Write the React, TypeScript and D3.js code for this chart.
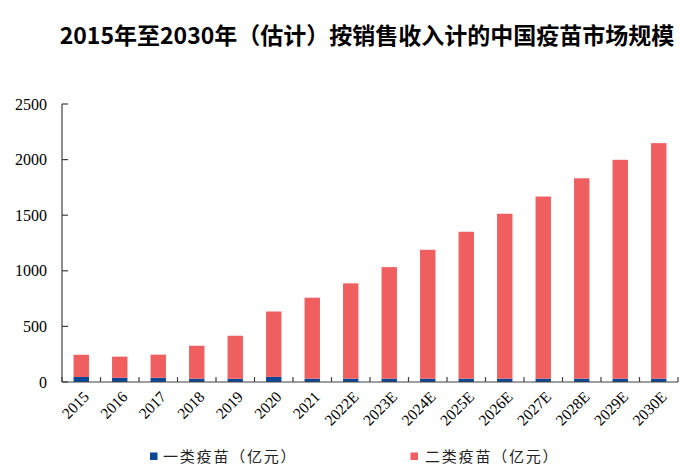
import React from "react";
import * as d3 from "d3";

const categories = ["2015","2016","2017","2018","2019","2020","2021","2022E","2023E","2024E","2025E","2026E","2027E","2028E","2029E","2030E"];
const classOne = [45, 37, 38, 30, 29, 46, 30, 30, 30, 30, 30, 30, 30, 30, 30, 30];
const classTwo = [200, 191, 208, 296, 387, 588, 728, 857, 1003, 1159, 1321, 1483, 1638, 1802, 1968, 2118];
const yTicks = [0, 500, 1000, 1500, 2000, 2500];
const seriesNames = ["一类疫苗（亿元）", "二类疫苗（亿元）"];
const title = "2015年至2030年（估计）按销售收入计的中国疫苗市场规模";

const W = 700, H = 473;
const BLUE = "#0a4796";
const RED = "#ef5f5f";
const AXIS = "#404040";

export default function App() {
  const x = d3.scaleBand<string>().domain(categories).range([62, 678]).paddingInner(0.6).paddingOuter(0.3);
  const y = d3.scaleLinear().domain([0, 2500]).range([382, 104]);
  const step = x.step();
  const bw = x.bandwidth();
  const boundaries = categories.map(c => (x(c) as number) + bw / 2 - step / 2).concat([(x(categories[categories.length - 1]) as number) + bw / 2 + step / 2]);

  return (
    <svg width={W} height={H} style={{ position: "absolute", left: 0, top: 0, background: "#fff" }}>
      <text x={367} y={44} textAnchor="middle" fontFamily="'Noto Sans CJK SC', 'Noto Sans', sans-serif" fontWeight="bold" fontSize={23} fill="#000">{title}</text>

      {categories.map((c, i) => {
        const x0 = x(c) as number;
        return (
          <g key={c}>
            <rect x={x0} width={bw} y={y(classOne[i])} height={y(0) - y(classOne[i])} fill={BLUE} />
            <rect x={x0} width={bw} y={y(classOne[i] + classTwo[i])} height={y(classOne[i]) - y(classOne[i] + classTwo[i])} fill={RED} />
          </g>
        );
      })}

      {/* y axis */}
      <line x1={62} x2={62} y1={y(2500)} y2={y(0)} stroke={AXIS} strokeWidth={1.2} />
      {yTicks.map(t => (
        <g key={t}>
          <line x1={62} x2={68} y1={y(t)} y2={y(t)} stroke={AXIS} strokeWidth={1.2} />
          <text x={47} y={y(t)} dy="0.35em" textAnchor="end" fontFamily="'Liberation Serif', serif" fontSize={16} fill="#000">{t}</text>
        </g>
      ))}

      {/* x axis */}
      <line x1={62} x2={boundaries[boundaries.length - 1]} y1={y(0)} y2={y(0)} stroke={AXIS} strokeWidth={1.2} />
      {boundaries.map((b, i) => (
        <line key={i} x1={b} x2={b} y1={y(0)} y2={y(0) - 5} stroke={AXIS} strokeWidth={1.2} />
      ))}
      {categories.map(c => {
        const cx = (x(c) as number) + bw / 2 + 5;
        const cy = 394;
        return (
          <text key={c} transform={`translate(${cx},${cy}) rotate(-45)`} textAnchor="end" dy="0.35em" fontFamily="'Liberation Serif', serif" fontSize={15.5} fill="#000">{c}</text>
        );
      })}

      {/* legend */}
      <rect x={150} y={452.5} width={7.5} height={7.5} fill={BLUE} />
      <text x={163} y={456.5} dy="0.35em" fontFamily="'Noto Sans CJK SC', sans-serif" fontSize={15} letterSpacing={1.8} fill="#222">{seriesNames[0]}</text>
      <rect x={410.5} y={452.5} width={7.5} height={7.5} fill={RED} />
      <text x={425} y={456.5} dy="0.35em" fontFamily="'Noto Sans CJK SC', sans-serif" fontSize={15} letterSpacing={1.8} fill="#222">{seriesNames[1]}</text>
    </svg>
  );
}
